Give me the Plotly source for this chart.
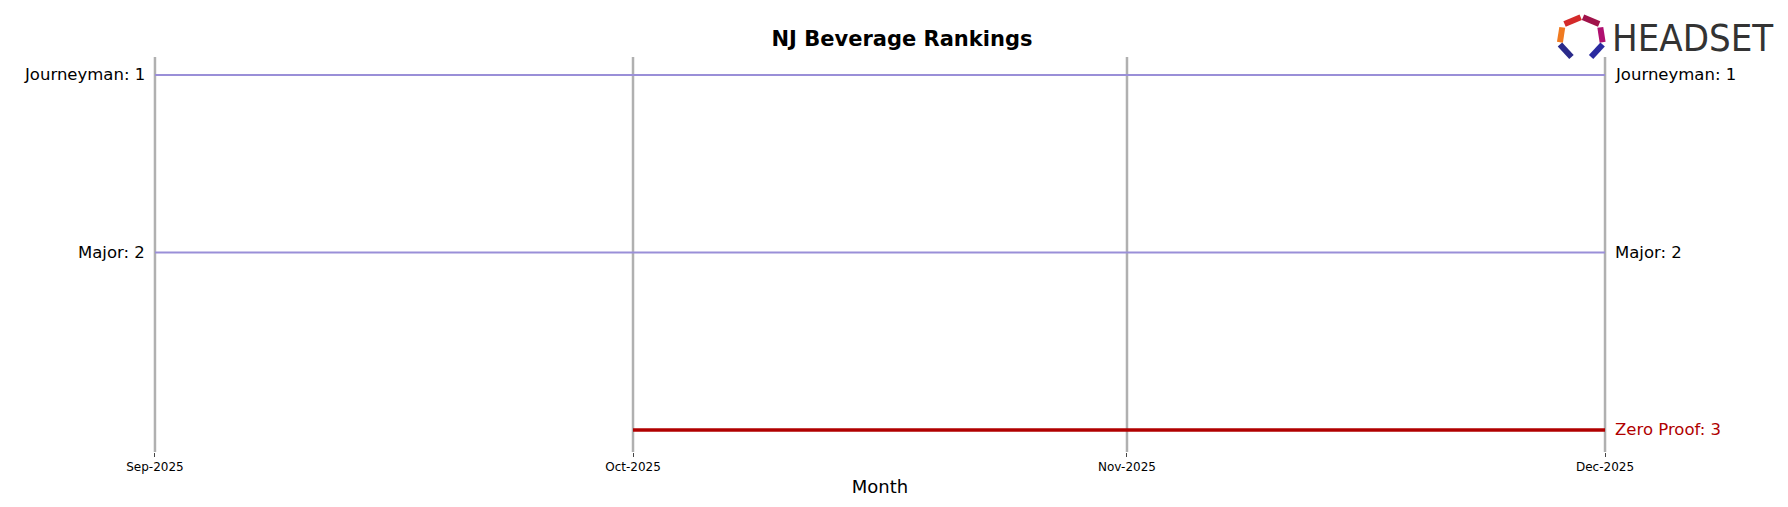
import plotly.graph_objects as go

months = ["2025-09-01", "2025-10-01", "2025-11-01", "2025-12-01"]
month_labels = ["Sep-2025", "Oct-2025", "Nov-2025", "Dec-2025"]
brands = ["Journeyman", "Major", "Zero Proof"]
ranks = [
    [1, 1, 1, 1],
    [2, 2, 2, 2],
    [None, 3, 3, 3],
]
colors = ["#9a8fd8", "#9a8fd8", "#b00000"]
widths = [2, 2, 3.5]

W, H = 1788, 507
L, R, T, B = 139, 183, 49, 63

fig = go.Figure()
font = "DejaVu Sans"

for name, vals, c, w in zip(brands, ranks, colors, widths):
    xs = [m for m, v in zip(months, vals) if v is not None]
    ys = [v for v in vals if v is not None]
    fig.add_trace(go.Scatter(x=xs, y=ys, mode="lines", line=dict(color=c, width=w),
                             name=name, showlegend=False, hoverinfo="skip", cliponaxis=False))
    fig.add_annotation(x=xs[-1], y=ys[-1], text=f"{name}: {ys[-1]}", xanchor="left",
                       xshift=8, showarrow=False, font=dict(size=16.5, color=c if c == "#b00000" else "black"))
    if vals[0] is not None:
        fig.add_annotation(x=xs[0], y=ys[0], text=f"{name}: {ys[0]}", xanchor="right",
                           xshift=-8, showarrow=False, font=dict(size=16.5, color="black"))

for m in months:
    fig.add_shape(type="line", x0=m, x1=m, xref="x", yref="paper", y0=0, y1=1,
                  line=dict(color="#b0b0b0", width=2.5), layer="below")

# logo, positioned in the reference's displayed pixels
def px(x):
    return (x - 136) / (1407 - 136)
def py(y):
    return (397 - y) / (397 - 50)

segs = [
    ((1365, 21), (1379, 15), "#d42a2a"),
    ((1381, 15), (1395, 21), "#a0124a"),
    ((1363, 24), (1361, 37), "#f07a20"),
    ((1396, 24), (1398, 37), "#b01070"),
    ((1361, 39), (1371, 50), "#2a2a8a"),
    ((1398, 39), (1388, 50), "#2a2aa0"),
]
for (x0, y0), (x1, y1), c in segs:
    fig.add_shape(type="line", xref="paper", yref="paper", x0=px(x0), y0=py(y0),
                  x1=px(x1), y1=py(y1), line=dict(color=c, width=6))
fig.add_annotation(xref="paper", yref="paper", x=px(1404), y=py(33), text="HEADSET",
                   xanchor="left", yanchor="middle", showarrow=False,
                   font=dict(family="DejaVu Sans Condensed", size=38, color="#333333"))

fig.update_layout(
    width=W, height=H, plot_bgcolor="white", paper_bgcolor="white",
    margin=dict(l=L, r=R, t=T, b=B),
    font=dict(family=font, color="black"),
    title=dict(text="<b>NJ Beverage Rankings</b>", x=0.5, xanchor="center", y=0.955,
               font=dict(size=21)),
    xaxis=dict(type="date", range=["2025-08-31 12:00", "2025-12-01 12:00"], tickvals=months,
               ticktext=month_labels, showgrid=False, zeroline=False,
               ticks="outside", ticklen=4, tickfont=dict(size=12),
               title=dict(text="Month", font=dict(size=18), standoff=6)),
    yaxis=dict(range=[3.124, 0.899], showgrid=False, zeroline=False,
               showticklabels=False),
)

fig.write_html("out.html")
